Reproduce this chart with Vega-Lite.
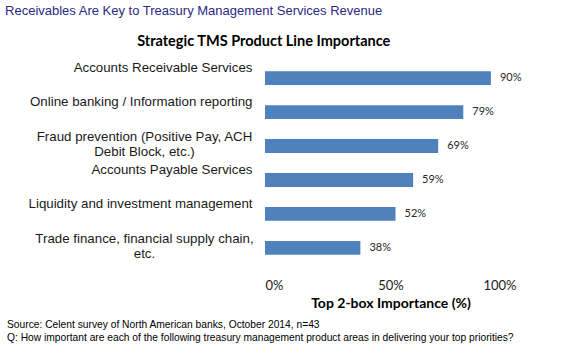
{
  "$schema": "https://vega.github.io/schema/vega-lite/v6.json",
  "background": "white",
  "padding": {"left": 5, "top": 5, "right": 5, "bottom": 5},
  "title": {
    "text": "Receivables Are Key to Treasury Management Services Revenue",
    "anchor": "start",
    "frame": "bounds",
    "font": "Liberation Sans",
    "fontSize": 13,
    "fontWeight": "normal",
    "color": "#2A2A84",
    "dx": -2,
    "offset": 16
  },
  "vconcat": [
    {
      "title": {
        "text": [
          "Source: Celent survey of North American banks, October 2014, n=43",
          "Q: How important are each of the following treasury management product areas in delivering your top priorities?"
        ],
        "orient": "bottom",
        "anchor": "start",
        "frame": "bounds",
        "font": "Liberation Sans",
        "fontSize": 10.25,
        "fontWeight": "normal",
        "color": "#000000",
        "lineHeight": 12.5,
        "dx": -21,
        "offset": 10
      },
      "vconcat": [
        {
          "title": {
            "text": "Strategic TMS Product Line Importance",
            "anchor": "middle",
            "frame": "bounds",
            "font": "Lato",
            "fontSize": 14.5,
            "fontWeight": "bold",
            "color": "#000000",
            "dx": -11,
            "offset": 11
          },
          "width": 251,
          "height": 204,
          "data": {
            "values": [
              {"item": "Accounts Receivable Services", "value": 0.90},
              {"item": "Online banking / Information reporting", "value": 0.79},
              {"item": "Fraud prevention (Positive Pay, ACH|Debit Block, etc.)", "value": 0.69},
              {"item": "Accounts Payable Services", "value": 0.59},
              {"item": "Liquidity and investment management", "value": 0.52},
              {"item": "Trade finance, financial supply chain,|etc.", "value": 0.38}
            ]
          },
          "encoding": {
            "y": {
              "field": "item",
              "type": "nominal",
              "sort": null,
              "scale": {"paddingInner": 0.59, "paddingOuter": 0.3},
              "axis": {
                "title": null,
                "domain": false,
                "ticks": false,
                "labelFont": "Liberation Sans",
                "labelFontSize": 13.3,
                "labelColor": "#1a1a1a",
                "labelLimit": 400,
                "labelLineHeight": 15,
                "labelBaseline": "middle",
                "labelAlign": {"condition": {"test": "indexof(datum.value, '|') >= 0", "value": "center"}, "value": "right"},
                "labelPadding": {"condition": {"test": "indexof(datum.value, '|') >= 0", "value": 121}, "value": 13},
                "labelOffset": {"condition": {"test": "indexof(datum.value, '|') >= 0", "value": -9}, "value": -10},
                "labelExpr": "split(datum.label, '|')"
              }
            },
            "x": {
              "field": "value",
              "type": "quantitative",
              "scale": {"domain": [0, 1]},
              "axis": {
                "title": "Top 2-box Importance (%)",
                "format": ".0%",
                "values": [0, 0.5, 1],
                "grid": false,
                "domain": false,
                "ticks": false,
                "labelFont": "Lato",
                "labelFontSize": 13,
                "labelColor": "#1a1a1a",
                "labelPadding": 14,
                "titleFont": "Lato",
                "titleFontSize": 14,
                "titleFontWeight": "bold",
                "titleColor": "#000000",
                "titlePadding": 4
              }
            }
          },
          "layer": [
            {"mark": {"type": "bar", "color": "#4F81BD"}},
            {
              "mark": {"type": "text", "align": "left", "baseline": "middle", "dx": 9, "font": "Lato", "fontSize": 11, "color": "#262626"},
              "encoding": {"text": {"field": "value", "type": "quantitative", "format": ".0%"}}
            }
          ]
        }
      ]
    }
  ],
  "config": {"view": {"stroke": null}}
}
